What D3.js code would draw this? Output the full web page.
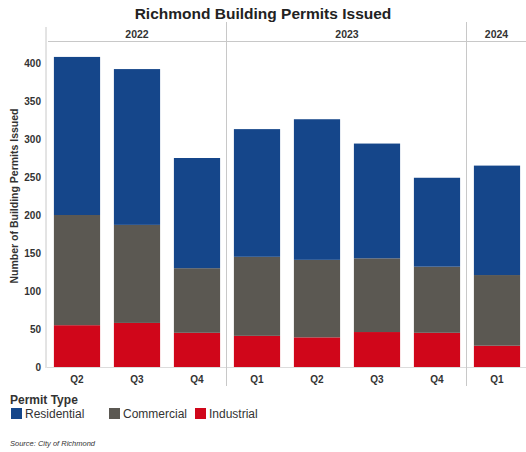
<!DOCTYPE html>
<html>
<head>
<meta charset="utf-8">
<script src="https://cdn.jsdelivr.net/npm/d3@7"></script>
<style>
  html, body { margin: 0; padding: 0; background: #fff; }
  svg { display: block; font-family: "Liberation Sans", Arial, sans-serif; }
</style>
</head>
<body>
<svg id="chart" width="526" height="452"></svg>
<script>
// Quarterly building permits, by year and permit type
const years = ["2022", "2023", "2024"];
const quarters = ["Q2", "Q3", "Q4", "Q1", "Q2", "Q3", "Q4", "Q1"];
const quarterYears = ["2022", "2022", "2022", "2023", "2023", "2023", "2023", "2024"];
const residential = [208, 205, 145, 168, 185, 151, 117, 144];
const commercial  = [145, 129, 85, 104, 102, 97, 87, 93];
const industrial  = [55, 58, 45, 41, 39, 46, 45, 28];
const yTicks = [0, 50, 100, 150, 200, 250, 300, 350, 400];
const types = ["Industrial", "Commercial", "Residential"];
const colors = { Residential: "#15468a", Commercial: "#5b5852", Industrial: "#d0061a" };
const legendOrder = ["Residential", "Commercial", "Industrial"];

const rows = quarters.map((q, i) => ({
  key: quarterYears[i] + "-" + q,
  quarter: q,
  year: quarterYears[i],
  Residential: residential[i],
  Commercial: commercial[i],
  Industrial: industrial[i]
}));

const svg = d3.select("#chart");
const left = 47, right = 527, base = 367;

const x = d3.scaleBand()
  .domain(rows.map(d => d.key))
  .range([left, right])
  .paddingInner(0.23)
  .paddingOuter(0.115);

const y = d3.scaleLinear().domain([0, 400]).range([base, 63]);

// Title
svg.append("text")
  .attr("x", 263).attr("y", 19)
  .attr("text-anchor", "middle")
  .attr("font-size", 15.5).attr("font-weight", "bold")
  .attr("fill", "#222")
  .text("Richmond Building Permits Issued");

// Year panels
const panels = years.map(yr => {
  const keys = rows.filter(d => d.year === yr).map(d => d.key);
  const x0 = x(keys[0]) - x.step() * x.paddingInner() / 2;
  const x1 = x(keys[keys.length - 1]) + x.bandwidth() + x.step() * x.paddingInner() / 2;
  return { yr, x0, x1 };
});

const grid = svg.append("g").attr("stroke", "#c8c8c8").attr("stroke-width", 1);
grid.append("line")
  .attr("x1", left - 1).attr("x2", left - 1)
  .attr("y1", 27).attr("y2", base + 1);
grid.append("line")
  .attr("x1", left + 1).attr("x2", 526)
  .attr("y1", 41.5).attr("y2", 41.5);
grid.append("line")
  .attr("x1", left).attr("x2", 526)
  .attr("y1", base + 0.5).attr("y2", base + 0.5)
  .attr("stroke", "#dcdcdc");
panels.slice(1).forEach(p => {
  grid.append("line")
    .attr("x1", Math.round(p.x0) - 0.5).attr("x2", Math.round(p.x0) - 0.5)
    .attr("y1", 22).attr("y2", 386);
});

svg.append("g").selectAll("text").data(panels).join("text")
  .attr("x", d => (d.x0 + Math.min(d.x1, 526)) / 2)
  .attr("y", 38)
  .attr("text-anchor", "middle")
  .attr("font-size", 10.5).attr("font-weight", "bold")
  .attr("fill", "#333")
  .text(d => d.yr);

// Stacked bars
const stack = d3.stack().keys(types)(rows);
svg.append("g").selectAll("g").data(stack).join("g")
  .attr("fill", s => colors[s.key])
  .selectAll("rect").data(s => s).join("rect")
  .attr("x", d => x(d.data.key))
  .attr("width", x.bandwidth())
  .attr("y", d => y(d[1]))
  .attr("height", d => y(d[0]) - y(d[1]));

// Y axis
const yAxis = svg.append("g")
  .attr("transform", `translate(${left - 6},0)`)
  .call(d3.axisLeft(y).tickValues(yTicks).tickSize(0).tickPadding(0));
yAxis.select(".domain").remove();
yAxis.selectAll("text")
  .attr("font-size", 10).attr("font-weight", "bold")
  .attr("fill", "#333")
  .attr("font-family", "'Liberation Sans', Arial, sans-serif");

svg.append("text")
  .attr("transform", "translate(18,196) rotate(-90)")
  .attr("text-anchor", "middle")
  .attr("font-size", 10.5).attr("font-weight", "bold")
  .attr("fill", "#333")
  .text("Number of Building Permits Issued");

// X axis (quarter labels)
const xAxis = svg.append("g")
  .attr("transform", `translate(0,${base})`)
  .call(d3.axisBottom(x).tickSize(0).tickPadding(9).tickFormat((k, i) => quarters[i]));
xAxis.select(".domain").remove();
xAxis.selectAll("text")
  .attr("font-size", 10).attr("font-weight", "bold")
  .attr("fill", "#333")
  .attr("font-family", "'Liberation Sans', Arial, sans-serif");

// Legend
svg.append("text")
  .attr("x", 10).attr("y", 404)
  .attr("font-size", 12).attr("font-weight", "bold")
  .attr("fill", "#333")
  .text("Permit Type");

const legendX = [11, 109, 195];
const legend = svg.append("g").selectAll("g").data(legendOrder).join("g")
  .attr("transform", (d, i) => `translate(${legendX[i]},408)`);
legend.append("rect")
  .attr("width", 11).attr("height", 11)
  .attr("fill", d => colors[d]);
legend.append("text")
  .attr("x", 14).attr("y", 10)
  .attr("font-size", 12)
  .attr("fill", "#333")
  .text(d => d);

// Source note
svg.append("text")
  .attr("x", 10).attr("y", 446)
  .attr("font-size", 7.5).attr("font-style", "italic")
  .attr("fill", "#333")
  .text("Source: City of Richmond");
</script>
</body>
</html>
